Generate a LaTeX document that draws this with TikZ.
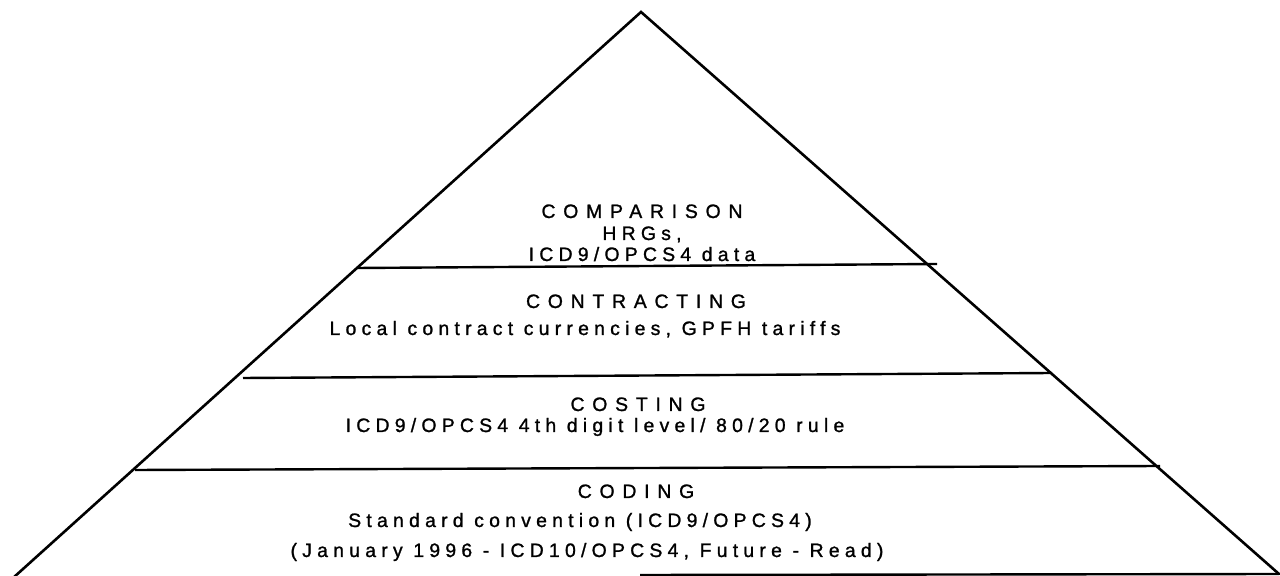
\documentclass[tikz,border=0pt]{standalone}
\usepackage{fontspec}
\setmainfont{Liberation Sans}
\newfontfamily\subfont[LetterSpace=27,FakeBold=1.2]{Liberation Sans}
\newfontfamily\titfont[LetterSpace=40,FakeBold=1.2]{Liberation Sans}
\begin{document}
\begin{tikzpicture}[x=0.5pt,y=-0.5pt,
  edge/.style={line width=1.3pt, line cap=round},
  tier/.style={line width=1.2pt},
  ttl/.style={anchor=base, inner sep=0pt, font=\titfont\fontsize{9.7}{10}\selectfont},
  sub/.style={anchor=base, inner sep=0pt, font=\subfont\fontsize{9.7}{10}\selectfont}]
\useasboundingbox (0,0) rectangle (1280,576);
% pyramid outline
\coordinate (apex) at (641,12);
\coordinate (bl) at (13,578);
\coordinate (br) at (1279,574);
\coordinate (bm) at (640,575);
\draw[edge] (bl) -- (apex) -- (br);
\draw[tier] (bm) -- (br);
% tier lines
\coordinate (t1l) at (357,268); \coordinate (t1r) at (937,264);
\coordinate (t2l) at (243,378); \coordinate (t2r) at (1052,373);
\coordinate (t3l) at (135,470); \coordinate (t3r) at (1160,466);
\draw[tier] (t1l) -- (t1r);
\draw[tier] (t2l) -- (t2r);
\draw[tier] (t3l) -- (t3r);
% texts
\node[ttl] (cmp) at (642,218) {COMPARISON};
\node[sub] (cmp1) at (642,240) {HRGs,};
\node[sub] (cmp2) at (642,261) {ICD9/OPCS4 data};
\node[ttl] (con) at (636,308) {CONTRACTING};
\node[sub] (con1) at (585,335) {Local contract currencies, GPFH tariffs};
\node[ttl] (cos) at (638,411) {COSTING};
\node[sub] (cos1) at (595,432) {ICD9/OPCS4 4th digit level/ 80/20 rule};
\node[ttl] (cod) at (636,498) {CODING};
\node[sub] (cod1) at (580,527) {Standard convention (ICD9/OPCS4)};
\node[sub] (cod2) at (587,557) {(January 1996 - ICD10/OPCS4, Future - Read)};
\end{tikzpicture}
\end{document}
